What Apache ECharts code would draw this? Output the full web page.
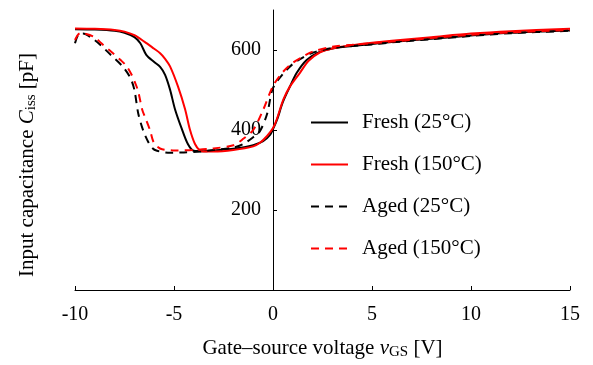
<!DOCTYPE html>
<html>
<head>
<meta charset="utf-8">
<script src="https://cdn.jsdelivr.net/npm/echarts@6/dist/echarts.min.js"></script>
<style>
html,body{margin:0;padding:0;background:#fff;}
#c{width:593px;height:365px;}
</style>
</head>
<body>
<div id="c"></div>
<script>
// ---- Data ----
var seriesNames = ['Fresh (25°C)', 'Fresh (150°C)', 'Aged (25°C)', 'Aged (150°C)'];
var xTicks = [-10, -5, 0, 5, 10, 15];
var yTicks = [200, 400, 600];

var fresh25V = [-10, -9, -8, -7.5, -7, -6.7, -6.4, -6.0, -5.7, -5.45, -5.2, -4.95, -4.6, -4.3, -4.0, -3.5, -3, -2, -1, -0.5, -0.15, 0, 0.2, 0.5, 0.85, 1.2, 1.7, 2.3, 3, 4, 5, 6, 8, 10, 12, 15];
var fresh25C = [652, 651, 648, 643, 632, 617, 588, 570, 558, 538, 501, 452, 402, 365, 348, 347, 349, 353, 362, 372, 388, 402, 425, 470, 508, 543, 575, 594, 604, 610, 615, 620, 628, 636, 643, 649];

var fresh150V = [-10, -9, -8, -7.5, -7, -6.5, -6, -5.7, -5.45, -5.2, -4.8, -4.44, -4.2, -3.94, -3.7, -3.5, -3, -2, -1, -0.66, -0.3, 0, 0.2, 0.52, 0.86, 1.36, 1.8, 2.4, 3, 4, 5, 6, 8, 10, 12, 15];
var fresh150C = [654, 653, 650, 646, 637, 621, 603, 592, 578, 559, 509, 452, 402, 365, 349, 346, 346, 350, 359, 368, 385, 405, 428, 476, 509, 543, 573, 595, 604, 612, 618, 623, 632, 641, 647, 653];

var aged25V = [-10, -9.8, -9.6, -9.24, -8.7, -8.2, -7.6, -7.2, -7.0, -6.8, -6.55, -6.3, -6.1, -5.86, -5.2, -4.5, -3.7, -3, -2, -1.5, -1, -0.66, -0.3, 0, 0.5, 1, 1.5, 2, 3, 4, 5, 6, 8, 10, 12, 15];
var aged25C = [617, 640, 641, 633, 612, 588, 559, 530, 500, 440, 398, 370, 355, 348, 343, 344, 346, 350, 356, 365, 382, 397, 440, 505, 540, 565, 581, 593, 605, 610, 614, 619, 627, 635, 642, 648];

var aged150V = [-10, -9.75, -9.5, -9.0, -8.7, -8.2, -7.7, -7.4, -7.14, -6.9, -6.8, -6.6, -6.46, -6.2, -6.05, -5.8, -5.6, -5.05, -4, -3, -2, -1.5, -1, -0.5, 0, 0.5, 1, 1.5, 2, 3, 4, 5, 6, 8, 10, 12, 15];
var aged150C = [625, 642, 641, 632, 618, 597, 575, 560, 538, 510, 495, 450, 432, 398, 372, 357, 352, 349, 350, 354, 362, 378, 400, 450, 510, 545, 568, 583, 596, 608, 613, 617, 621, 630, 638, 644, 650];

function pairs(xs, ys) {
  var out = [];
  for (var i = 0; i < xs.length; i++) out.push([xs[i], ys[i]]);
  return out;
}

var FONT = 'Liberation Serif';
var GRID_LEFT = 75, GRID_RIGHT = 23;
var X_MIN = -10, X_MAX = 15;
var chartW = 593;
// y axis sits at x = 0: shift it from the grid's left edge by the scale's own span
var yAxisShift = -((0 - X_MIN) / (X_MAX - X_MIN)) * (chartW - GRID_LEFT - GRID_RIGHT);

var chart = echarts.init(document.getElementById('c'), null, {renderer: 'canvas'});

function lineSeries(name, data, color, dashed) {
  return {
    name: name,
    type: 'line',
    data: data,
    smooth: 0.3,
    symbol: 'none',
    lineStyle: {color: color, width: 2, type: dashed ? [8, 6] : 'solid'},
    itemStyle: {color: color},
    z: 2
  };
}

chart.setOption({
  animation: false,
  backgroundColor: '#fff',
  textStyle: {fontFamily: FONT, color: '#000'},
  grid: {left: GRID_LEFT, right: GRID_RIGHT, top: 10, bottom: 72, containLabel: false},
  xAxis: {
    type: 'value',
    min: X_MIN, max: X_MAX, interval: 5,
    axisLine: {onZero: false, lineStyle: {color: '#000', width: 1}},
    axisTick: {inside: true, length: 4, lineStyle: {color: '#000'}, customValues: xTicks},
    axisLabel: {fontFamily: FONT, fontSize: 20, color: '#000', margin: 15, customValues: xTicks},
    splitLine: {show: false},
    name: 'Gate–source voltage {i|v}{sub|GS} [V]',
    nameLocation: 'middle',
    nameGap: 47,
    nameTextStyle: {
      fontFamily: FONT, fontSize: 21, color: '#000',
      rich: {
        i: {fontFamily: FONT, fontSize: 21, fontStyle: 'italic', color: '#000'},
        sub: {fontFamily: FONT, fontSize: 15, color: '#000', padding: [8, 0, 0, 0]}
      }
    }
  },
  yAxis: {
    type: 'value',
    min: 0, max: 700,
    offset: yAxisShift,
    axisLine: {show: true, onZero: false, lineStyle: {color: '#000', width: 1}},
    axisTick: {show: true, inside: true, length: 4, lineStyle: {color: '#000'}, customValues: yTicks},
    axisLabel: {fontFamily: FONT, fontSize: 20, color: '#000', margin: 12, customValues: yTicks},
    splitLine: {show: false}
  },
  legend: {
    orient: 'vertical',
    left: 310, top: 112,
    padding: 0,
    itemWidth: 37, itemHeight: 14,
    itemGap: 21,
    itemStyle: {opacity: 0},
    data: seriesNames,
    textStyle: {fontFamily: FONT, fontSize: 21, color: '#000', padding: [0, 0, 0, 9]}
  },
  graphic: [{
    type: 'text',
    x: 27, y: 165,
    rotation: Math.PI / 2,
    style: {
      text: 'Input capacitance {i|C}{sub|iss} [pF]',
      fontFamily: FONT, fontSize: 21, fill: '#000',
      align: 'center', verticalAlign: 'middle',
      rich: {
        i: {fontFamily: FONT, fontSize: 21, fontStyle: 'italic', fill: '#000'},
        sub: {fontFamily: FONT, fontSize: 15, fill: '#000', padding: [8, 0, 0, 0]}
      }
    }
  }],
  series: [
    lineSeries(seriesNames[0], pairs(fresh25V, fresh25C), '#000000', false),
    lineSeries(seriesNames[1], pairs(fresh150V, fresh150C), '#ff0000', false),
    lineSeries(seriesNames[2], pairs(aged25V, aged25C), '#000000', true),
    lineSeries(seriesNames[3], pairs(aged150V, aged150C), '#ff0000', true)
  ]
});
</script>
</body>
</html>
